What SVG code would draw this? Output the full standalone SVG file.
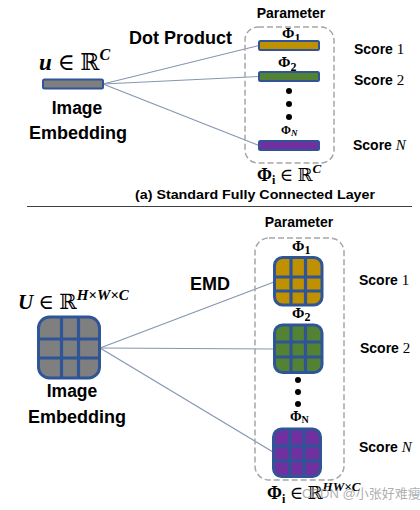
<svg xmlns="http://www.w3.org/2000/svg" width="420" height="510" viewBox="0 0 420 510">
<style>
.b{font-family:"Liberation Sans",Arial,sans-serif;font-weight:bold;fill:#000}
.m{font-family:"Liberation Serif","DejaVu Serif",serif;fill:#000}
.mb{font-family:"Liberation Serif","DejaVu Serif",serif;font-weight:bold;fill:#000}
.bi{font-style:italic;font-weight:bold}
.dash{fill:none;stroke:#A6A6A6;stroke-width:1.5;stroke-dasharray:6 3}
.bar{stroke:#2F5597;stroke-width:2}
.grid{stroke:#2F5597;stroke-width:3}
.conn{stroke:#8497B0;stroke-width:1.2;fill:none}
.gl{stroke:#2F5597;stroke-width:3.2}
</style>
<rect width="420" height="510" fill="#fff"/>

<g id="connectors">
<line class="conn" x1="103" y1="84" x2="259" y2="45.5"/>
<line class="conn" x1="103" y1="84" x2="259" y2="76.5"/>
<line class="conn" x1="103" y1="84" x2="259" y2="145.5"/>
<line class="conn" x1="100" y1="348" x2="274" y2="282"/>
<line class="conn" x1="100" y1="348" x2="274" y2="349"/>
<line class="conn" x1="100" y1="348" x2="273" y2="452"/>
</g>

<!-- (a) top part -->
<g id="top-embedding">
<text class="m" x="39" y="70" font-size="23"><tspan class="bi">u</tspan> ∈ ℝ<tspan class="bi" font-size="16" dy="-10">C</tspan></text>
<rect class="bar" x="43" y="79.5" width="60" height="9" rx="1.5" fill="#7F7F7F"/>
<text class="b" x="77" y="114" font-size="17.5" text-anchor="middle">Image</text>
<text class="b" x="78" y="139" font-size="17.5" text-anchor="middle" textLength="98" lengthAdjust="spacingAndGlyphs">Embedding</text>
</g>
<g id="top-label">
<text class="b" x="129" y="44" font-size="18">Dot Product</text>
</g>
<g id="top-parameter">
<text class="b" x="291" y="18" font-size="14" text-anchor="middle">Parameter</text>
<rect class="dash" x="245" y="27" width="89" height="136" rx="13"/>
<text class="mb" x="282" y="38" font-size="15">Φ<tspan font-size="12" dy="4">1</tspan></text>
<rect class="bar" x="259" y="41" width="60" height="9" rx="1.5" fill="#BF9000"/>
<text class="mb" x="278" y="67" font-size="15">Φ<tspan font-size="12" dy="4">2</tspan></text>
<rect class="bar" x="259" y="72" width="60" height="9" rx="1.5" fill="#548235"/>
<circle cx="289" cy="91" r="3"/>
<circle cx="289" cy="104" r="3"/>
<circle cx="289" cy="117" r="3"/>
<text class="mb" x="281" y="134" font-size="12">Φ<tspan class="bi" font-size="9" dy="2">N</tspan></text>
<rect class="bar" x="259" y="141" width="60" height="9" rx="1.5" fill="#7030A0"/>
<text class="mb" x="257" y="181" font-size="18">Φ<tspan font-size="12" dy="3">i</tspan><tspan class="m" font-weight="normal" dy="-3"> ∈ ℝ</tspan><tspan class="bi" font-size="13" dy="-8">C</tspan></text>
</g>
<g id="top-scores">
<text class="b" x="354" y="54" font-size="14">Score <tspan class="m" font-weight="normal" font-size="15">1</tspan></text>
<text class="b" x="354" y="85" font-size="14">Score <tspan class="m" font-weight="normal" font-size="15">2</tspan></text>
<text class="b" x="353" y="150" font-size="14">Score <tspan class="m" font-weight="normal" font-style="italic" font-size="15">N</tspan></text>
</g>
<g id="caption-a">
<text class="b" x="255" y="199" font-size="13" text-anchor="middle" textLength="240" lengthAdjust="spacingAndGlyphs">(a) Standard Fully Connected Layer</text>
</g>
<line x1="27" y1="206.5" x2="412" y2="206.5" stroke="#404040" stroke-width="1.2"/>

<!-- bottom part -->
<g id="bottom-embedding">
<text class="m" x="18" y="309" font-size="21"><tspan class="bi">U</tspan> ∈ ℝ<tspan class="bi" font-size="15" dy="-9">H×W×C</tspan></text>
<rect x="38.5" y="317" width="61" height="61" rx="11" fill="#7F7F7F" class="grid"/>
<line class="gl" x1="61.5" y1="317" x2="61.5" y2="378"/>
<line class="gl" x1="78.5" y1="317" x2="78.5" y2="378"/>
<line class="gl" x1="38.5" y1="339" x2="99.5" y2="339"/>
<line class="gl" x1="38.5" y1="358" x2="99.5" y2="358"/>
<text class="b" x="72" y="397" font-size="17.5" text-anchor="middle">Image</text>
<text class="b" x="77" y="423" font-size="17.5" text-anchor="middle" textLength="98" lengthAdjust="spacingAndGlyphs">Embedding</text>
</g>
<g id="bottom-label">
<text class="b" x="190" y="290" font-size="18">EMD</text>
</g>
<g id="bottom-parameter">
<text class="b" x="299" y="227" font-size="14" text-anchor="middle">Parameter</text>
<rect class="dash" x="255" y="238" width="89" height="242" rx="14"/>
<text class="mb" x="292" y="251" font-size="15">Φ<tspan font-size="12" dy="3">1</tspan></text>
<rect x="274.5" y="257.5" width="47.5" height="47.5" rx="8" fill="#BF9000" class="grid"/>
<line class="gl" x1="291" y1="257.5" x2="291" y2="305"/>
<line class="gl" x1="305.5" y1="257.5" x2="305.5" y2="305"/>
<line class="gl" x1="274.5" y1="277" x2="322" y2="277"/>
<line class="gl" x1="274.5" y1="291" x2="322" y2="291"/>

<text class="mb" x="292" y="318" font-size="15">Φ<tspan font-size="12" dy="3">2</tspan></text>
<rect x="274.5" y="325" width="47.5" height="47.5" rx="8" fill="#548235" class="grid"/>
<line class="gl" x1="291" y1="325" x2="291" y2="372.5"/>
<line class="gl" x1="305.5" y1="325" x2="305.5" y2="372.5"/>
<line class="gl" x1="274.5" y1="342" x2="322" y2="342"/>
<line class="gl" x1="274.5" y1="357" x2="322" y2="357"/>

<circle cx="298" cy="380" r="3"/>
<circle cx="298" cy="392" r="3"/>
<circle cx="298" cy="404" r="3"/>

<text class="mb" x="290" y="421" font-size="14">Φ<tspan font-size="10" dy="2">N</tspan></text>
<rect x="273.5" y="429" width="47" height="47.5" rx="8" fill="#7030A0" class="grid"/>
<line class="gl" x1="290" y1="429" x2="290" y2="476.5"/>
<line class="gl" x1="304" y1="429" x2="304" y2="476.5"/>
<line class="gl" x1="273.5" y1="446" x2="320.5" y2="446"/>
<line class="gl" x1="273.5" y1="461" x2="320.5" y2="461"/>

<text class="mb" x="267" y="499" font-size="18">Φ<tspan font-size="12" dy="4">i</tspan><tspan class="m" font-weight="normal" dy="-4"> ∈ ℝ</tspan><tspan class="bi" font-size="13" dy="-8">HW×C</tspan></text>
</g>
<g id="bottom-scores">
<text class="b" x="359" y="285" font-size="14">Score <tspan class="m" font-weight="normal" font-size="15">1</tspan></text>
<text class="b" x="360" y="353" font-size="14">Score <tspan class="m" font-weight="normal" font-size="15">2</tspan></text>
<text class="b" x="359" y="452" font-size="14">Score <tspan class="m" font-weight="normal" font-style="italic" font-size="15">N</tspan></text>
</g>
<g id="watermark">
<text x="302" y="498" font-size="13" fill="#9A9A9A" fill-opacity="0.8" font-family="'Liberation Sans','Noto Sans CJK SC',sans-serif">CSDN @小张好难瘦</text>
</g>
</svg>
